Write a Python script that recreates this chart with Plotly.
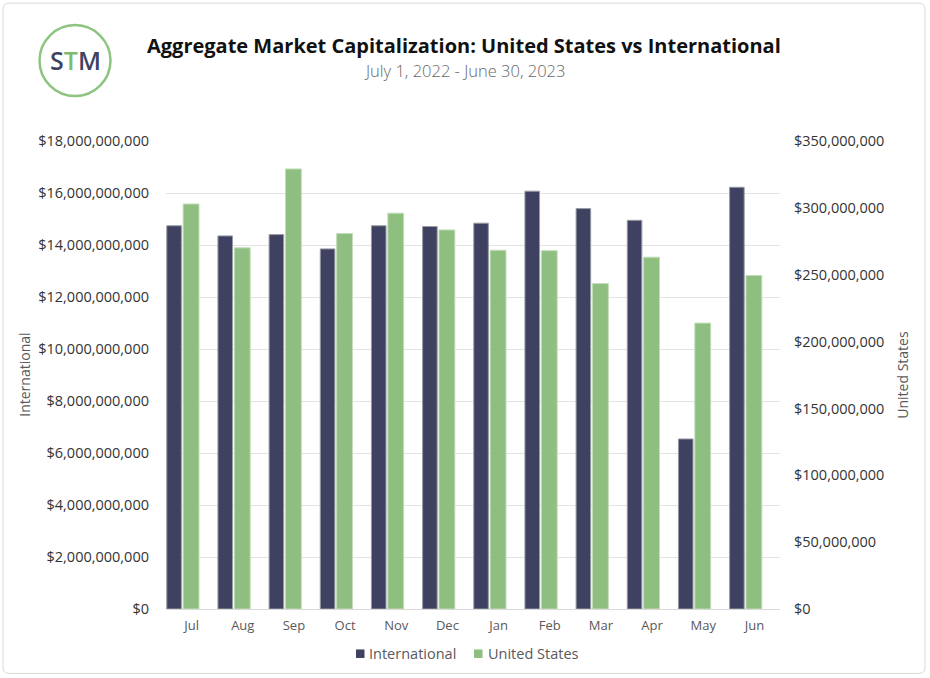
import plotly.graph_objects as go

months = ["Jul", "Aug", "Sep", "Oct", "Nov", "Dec", "Jan", "Feb", "Mar", "Apr", "May", "Jun"]
international = [14.74e9, 14.35e9, 14.40e9, 13.85e9, 14.74e9, 14.71e9, 14.84e9, 16.07e9, 15.40e9, 14.95e9, 6.54e9, 16.22e9]
united_states = [302.9e6, 270.1e6, 329.1e6, 280.8e6, 296.0e6, 283.5e6, 268.3e6, 268.0e6, 243.4e6, 263.1e6, 213.8e6, 249.4e6]
series_names = ["International", "United States"]

title = "Aggregate Market Capitalization: United States vs International"
subtitle = "July 1, 2022 - June 30, 2023"

W, H = 930, 678
PL, PR, PT, PB = 166, 780, 141, 609.5

def px(x):
    return (x - PL) / (PR - PL)

def py(y):
    return (PB - y) / (PB - PT)

NAVY = "#3E4260"
GREEN = "#8FBF80"
GRAY = "#595959"
FONT = "Open Sans"

fig = go.Figure()
fig.add_trace(go.Bar(
    x=months, y=international, name=series_names[0], yaxis="y",
    marker=dict(color=NAVY, line=dict(color="#9A9AA6", width=1)),
    offset=-0.485, width=0.285, showlegend=False,
))
fig.add_trace(go.Bar(
    x=months, y=united_states, name=series_names[1], yaxis="y2",
    marker=dict(color=GREEN, line=dict(color="#C2DDB8", width=1)),
    offset=-0.165, width=0.31, showlegend=False,
))

# rounded border
r = 6
x0, x1, y0, y1 = 3, 925, 3, 674
path = (f"M {px(x0+r)} {py(y0)} L {px(x1-r)} {py(y0)} Q {px(x1)} {py(y0)} {px(x1)} {py(y0+r)} "
        f"L {px(x1)} {py(y1-r)} Q {px(x1)} {py(y1)} {px(x1-r)} {py(y1)} "
        f"L {px(x0+r)} {py(y1)} Q {px(x0)} {py(y1)} {px(x0)} {py(y1-r)} "
        f"L {px(x0)} {py(y0+r)} Q {px(x0)} {py(y0)} {px(x0+r)} {py(y0)} Z")
shapes = [
    dict(type="path", xref="paper", yref="paper", path=path,
         line=dict(color="#D9D9D9", width=1), layer="below"),
    dict(type="circle", xref="paper", yref="paper",
         x0=px(39.5), x1=px(110.5), y0=py(96), y1=py(25),
         line=dict(color="#8DC47F", width=2.5)),
    # legend swatches
    dict(type="rect", xref="paper", yref="paper",
         x0=px(356), x1=px(364.5), y0=py(658.5), y1=py(650),
         fillcolor=NAVY, line=dict(width=0)),
    dict(type="rect", xref="paper", yref="paper",
         x0=px(474), x1=px(482.5), y0=py(658.5), y1=py(650),
         fillcolor=GREEN, line=dict(width=0)),
]

annotations = [
    dict(text=f"<b>{title}</b>", x=px(464), y=py(45), xref="paper", yref="paper",
         showarrow=False, xanchor="center", yanchor="middle",
         font=dict(family=FONT, size=20, color="#111111")),
    dict(text=subtitle, x=px(464), y=py(70), xref="paper", yref="paper",
         showarrow=False, xanchor="center", yanchor="middle",
         font=dict(family=FONT, size=16.5, color="#666666", weight=300)),
    dict(text="<span style='color:#3E4260'>S</span><span style='color:#7DBB6E'>T</span><span style='color:#3E4260'>M</span>",
         x=px(75), y=py(59.5), xref="paper", yref="paper",
         showarrow=False, xanchor="center", yanchor="middle",
         font=dict(family=FONT, size=25, color=NAVY, weight=600)),
    dict(text="International", x=px(25), y=py(375), xref="paper", yref="paper",
         showarrow=False, xanchor="center", yanchor="middle", textangle=-90,
         font=dict(family=FONT, size=14, color=GRAY)),
    dict(text="United States", x=px(903), y=py(375), xref="paper", yref="paper",
         showarrow=False, xanchor="center", yanchor="middle", textangle=-90,
         font=dict(family=FONT, size=14, color=GRAY)),
    # legend labels
    dict(text=series_names[0], x=px(367), y=py(654), xref="paper", yref="paper",
         showarrow=False, xanchor="left", yanchor="middle",
         font=dict(family=FONT, size=14.5, color=GRAY)),
    dict(text=series_names[1], x=px(485.5), y=py(654), xref="paper", yref="paper",
         showarrow=False, xanchor="left", yanchor="middle",
         font=dict(family=FONT, size=14.5, color=GRAY)),
]

fig.update_layout(
    width=W, height=H, autosize=False,
    margin=dict(l=PL, r=W - PR, t=PT, b=H - PB, pad=0),
    paper_bgcolor="white", plot_bgcolor="white",
    font=dict(family=FONT, size=14, color=GRAY),
    barmode="group",
    showlegend=False,
    xaxis=dict(showgrid=False, showline=True, linecolor="#D9D9D9", linewidth=1,
               ticks="", tickfont=dict(size=13, color=GRAY), ticklabelstandoff=4,
               automargin=False),
    yaxis=dict(range=[0, 18e9], dtick=2e9, tickprefix="$", tickformat=",.0f",
               showgrid=True, gridcolor="#E3E3E3", gridwidth=1, zeroline=False,
               showline=False, ticks="", ticklabelstandoff=16, automargin=False,
               tickfont=dict(size=14.5, color="#333333")),
    yaxis2=dict(range=[0, 350e6], dtick=50e6, tickprefix="$", tickformat=",.0f",
                overlaying="y", side="right", showgrid=False, zeroline=False,
                showline=False, ticks="", ticklabelstandoff=13, automargin=False,
                tickfont=dict(size=14.5, color="#333333")),
    shapes=shapes,
    annotations=annotations,
)

fig.write_html("out.html", config={"displayModeBar": False},
               post_script="document.body.style.margin='0';document.body.style.overflow='hidden';")
